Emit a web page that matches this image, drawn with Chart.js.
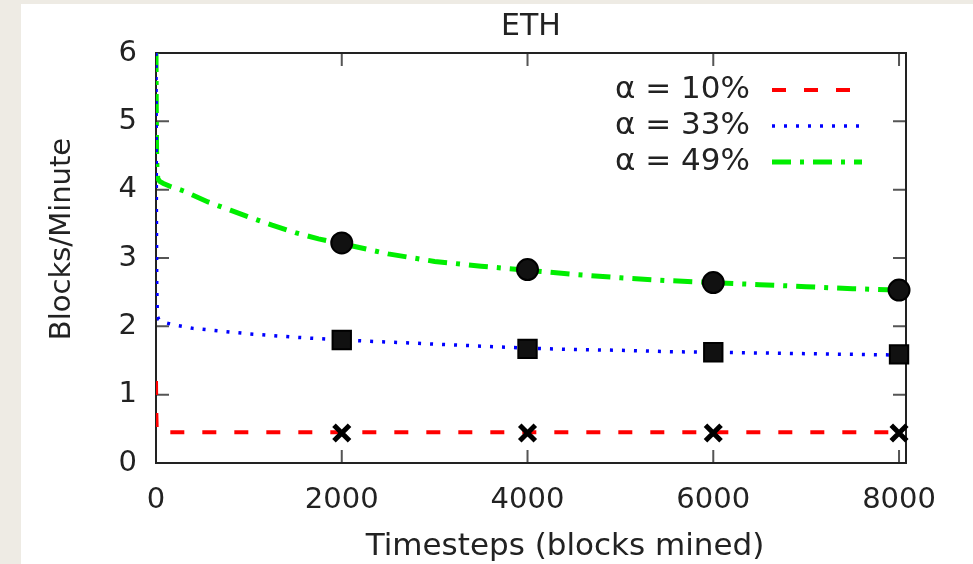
<!DOCTYPE html>
<html>
<head>
<meta charset="utf-8">
<script src="https://cdn.jsdelivr.net/npm/chart.js@4.4.1/dist/chart.umd.min.js"></script>
<style>
  html, body { margin: 0; padding: 0; background: #eeebe4; }
  #wrap { position: absolute; left: 21px; top: 4px; width: 952px; height: 560px; background: #fff; }
  canvas { display: block; }
</style>
</head>
<body>
<div id="wrap"><canvas id="chart" width="952" height="560"></canvas></div>
<script>
const xTicks = [0, 2000, 4000, 6000, 8000];
const yTicks = [0, 1, 2, 3, 4, 5, 6];

// alpha = 10%
const steps10 = [0, 4, 8, 20, 1000, 2000, 3000, 4000, 5000, 6000, 7000, 8000];
const rate10 = [1.2, 0.7, 0.48, 0.45, 0.45, 0.45, 0.45, 0.45, 0.45, 0.45, 0.45, 0.45];

// alpha = 33%
const steps33 = [0, 4, 8, 15, 30, 80, 200, 400, 700, 1000, 1500, 2000, 2500, 3000, 3500, 4000, 4500, 5000, 5500, 6000, 6500, 7000, 7500, 8000];
const rate33 = [6.0, 3.8, 2.6, 2.15, 2.1, 2.06, 2.02, 1.97, 1.93, 1.89, 1.84, 1.8, 1.77, 1.74, 1.71, 1.68, 1.66, 1.65, 1.63, 1.62, 1.61, 1.6, 1.59, 1.58];

// alpha = 49%
const steps49 = [0, 3, 6, 10, 20, 40, 80, 150, 300, 560, 800, 1000, 1250, 1500, 1750, 2000, 2500, 3000, 3500, 4000, 4500, 5000, 5500, 6000, 6500, 7000, 7500, 8000];
const rate49 = [6.0, 5.2, 4.6, 4.3, 4.16, 4.12, 4.09, 4.05, 3.98, 3.82, 3.7, 3.6, 3.48, 3.37, 3.28, 3.21, 3.06, 2.95, 2.88, 2.82, 2.76, 2.71, 2.67, 2.64, 2.61, 2.58, 2.55, 2.53];

// point markers
const markerSteps = [2000, 4000, 6000, 8000];
const marker10 = [0.44, 0.44, 0.44, 0.44];
const marker33 = [1.8, 1.67, 1.62, 1.59];
const marker49 = [3.22, 2.83, 2.64, 2.53];

const toPoints = (xs, ys) => xs.map((x, i) => ({ x, y: ys[i] }));

const FONT = '"DejaVu Sans", sans-serif';
Chart.defaults.font.family = FONT;
Chart.defaults.font.size = 29;
Chart.defaults.color = '#222';

// border box + inward tick marks, gnuplot style, plus the two axis labels
const framePlugin = {
  id: 'frame',
  beforeDatasetsDraw(chart) {
    const { ctx, chartArea: a, scales: { x, y } } = chart;
    ctx.save();
    ctx.strokeStyle = '#555';
    ctx.lineWidth = 2;
    ctx.beginPath();
    x.ticks.forEach(t => {
      const px = x.getPixelForValue(t.value);
      ctx.moveTo(px, a.bottom); ctx.lineTo(px, a.bottom - 13);
      ctx.moveTo(px, a.top); ctx.lineTo(px, a.top + 13);
    });
    y.ticks.forEach(t => {
      const py = y.getPixelForValue(t.value);
      ctx.moveTo(a.left, py); ctx.lineTo(a.left + 13, py);
      ctx.moveTo(a.right, py); ctx.lineTo(a.right - 13, py);
    });
    ctx.stroke();
    ctx.strokeStyle = '#222';
    ctx.strokeRect(a.left, a.top, a.right - a.left, a.bottom - a.top);

    ctx.fillStyle = '#222';
    ctx.textAlign = 'center';
    ctx.textBaseline = 'middle';
    ctx.font = '31px ' + FONT;
    ctx.fillText('Timesteps (blocks mined)', 544, 543);

    ctx.translate(41, 235);
    ctx.rotate(-Math.PI / 2);
    ctx.font = '29px ' + FONT;
    ctx.fillText('Blocks/Minute', 0, 0);
    ctx.restore();
  }
};

// key in the top right corner: label, then line sample
const keyPlugin = {
  id: 'key',
  afterDatasetsDraw(chart) {
    const { ctx, chartArea: a } = chart;
    ctx.save();
    ctx.font = '31px ' + FONT;
    ctx.textAlign = 'right';
    ctx.textBaseline = 'middle';
    chart.data.datasets.filter(d => d.label).forEach((d, i) => {
      const ty = a.top + 37 + 36 * i;
      ctx.fillStyle = '#222';
      ctx.fillText(d.label, a.right - 156, ty);
      ctx.strokeStyle = d.borderColor;
      ctx.lineWidth = d.borderWidth;
      ctx.setLineDash(d.borderDash);
      ctx.beginPath();
      ctx.moveTo(a.right - 134, ty);
      ctx.lineTo(a.right - 44, ty);
      ctx.stroke();
    });
    ctx.restore();
  }
};

const lineSet = (label, xs, ys, color, width, dash) => ({
  label,
  data: toPoints(xs, ys),
  showLine: true,
  borderColor: color,
  borderWidth: width,
  borderDash: dash,
  pointRadius: 0,
  tension: 0,
  order: 1
});

const markerSet = (ys, style, radius, border) => ({
  data: toPoints(markerSteps, ys),
  showLine: false,
  pointStyle: style,
  pointRadius: radius,
  pointBackgroundColor: '#111',
  pointBorderColor: '#000',
  pointBorderWidth: border,
  clip: false,
  order: 0
});

new Chart(document.getElementById('chart'), {
  type: 'scatter',
  data: {
    datasets: [
      lineSet('α = 10%', steps10, rate10, '#ff0000', 4, [14, 18]),
      lineSet('α = 33%', steps33, rate33, '#0000ff', 3.5, [3, 9]),
      lineSet('α = 49%', steps49, rate49, '#00ee00', 5, [19, 9, 4, 9]),
      markerSet(marker10, 'crossRot', 11, 5),
      markerSet(marker33, 'rect', 13, 2),
      markerSet(marker49, 'circle', 10.5, 2)
    ]
  },
  options: {
    responsive: false,
    animation: false,
    events: [],
    layout: { padding: { left: 27, right: 67, top: 0, bottom: 1.6 } },
    plugins: {
      legend: { display: false },
      tooltip: { enabled: false },
      title: {
        display: true,
        text: 'ETH',
        fullSize: false,
        color: '#222',
        font: { size: 30, weight: 'normal' },
        padding: { top: 5, bottom: 8 }
      }
    },
    scales: {
      x: {
        type: 'linear',
        min: 0,
        max: 8075,
        afterBuildTicks: s => { s.ticks = xTicks.map(v => ({ value: v })); },
        afterFit: s => { s.height = 99.4; },
        grid: { display: false, drawTicks: false },
        border: { display: false },
        ticks: { padding: 20, maxRotation: 0, callback: v => String(v) },
        title: { display: false }
      },
      y: {
        min: 0,
        max: 6,
        afterBuildTicks: s => { s.ticks = yTicks.map(v => ({ value: v })); },
        afterFit: s => { s.width = 108; },
        grid: { display: false, drawTicks: false },
        border: { display: false },
        ticks: { padding: 19, callback: v => String(v) },
        title: { display: false }
      }
    }
  },
  plugins: [framePlugin, keyPlugin]
});
</script>
</body>
</html>
